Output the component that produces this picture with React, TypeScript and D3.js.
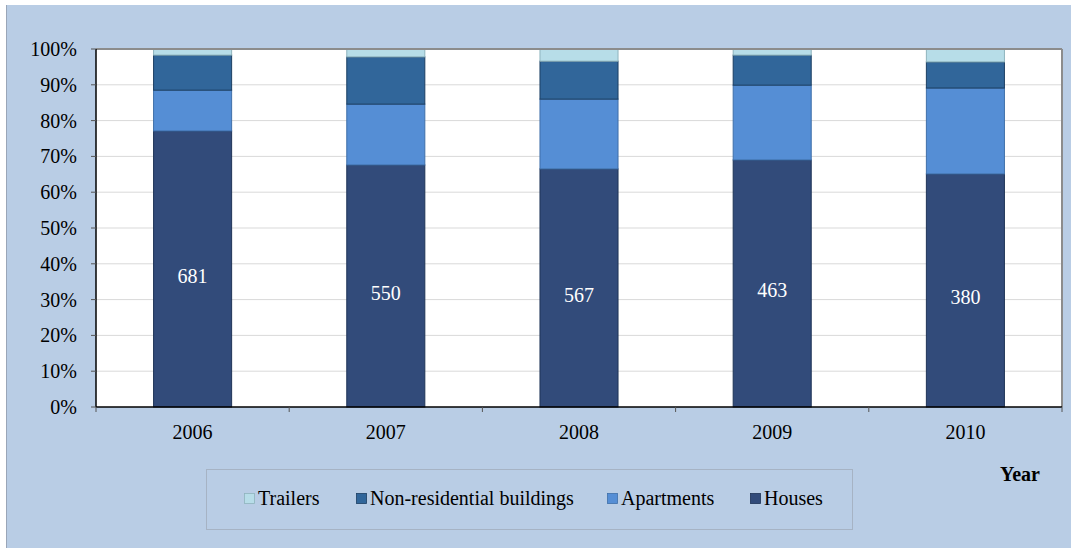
import React from "react";
import * as d3 from "d3";

const years = ["2006", "2007", "2008", "2009", "2010"];
const houses = [77.1, 67.6, 66.5, 69.0, 65.1];
const apartments = [11.4, 17.0, 19.5, 20.9, 24.0];
const nonResidential = [9.8, 13.2, 10.6, 8.4, 7.3];
const trailers = [1.7, 2.2, 3.4, 1.7, 3.6];
const houseCounts = [681, 550, 567, 463, 380];
const yTicks = [0, 10, 20, 30, 40, 50, 60, 70, 80, 90, 100];

const seriesNames = ["Houses", "Apartments", "Non-residential buildings", "Trailers"];
const seriesColors = ["#324b7a", "#558ed5", "#31669a", "#b7dde8"];
const seriesStroke = ["#1f3457", "#3f6fa8", "#1c3f63", "#8fb4bd"];

const W = 1071;
const H = 548;
const margin = { left: 96, right: 1062, top: 49, bottom: 407 };

export default function App() {
  const x = d3.scaleBand().domain(years).range([margin.left, margin.right]).paddingInner(0.596).paddingOuter(0.298);
  const y = d3.scaleLinear().domain([0, 100]).range([margin.bottom, margin.top]);
  const bandStep = (margin.right - margin.left) / years.length;

  const table = years.map((yr, i) => ({
    year: yr,
    Houses: houses[i],
    Apartments: apartments[i],
    "Non-residential buildings": nonResidential[i],
    Trailers: trailers[i],
  }));
  const stacked = d3.stack<any>().keys(seriesNames)(table);

  const font = "'Liberation Serif', 'Times New Roman', Times, serif";
  const ts = { fontFamily: font };
  const legendItems = [
    { idx: 3, x: 244 },
    { idx: 2, x: 356 },
    { idx: 1, x: 607 },
    { idx: 0, x: 750 },
  ];

  return (
    <svg width={W} height={H} style={{ position: "absolute", left: 0, top: 0, fontFamily: font }}>
      <rect x={0} y={0} width={W} height={H} fill="#ffffff" />
      <rect x={6} y={5} width={W - 6} height={H - 5} fill="#b9cde5" />
      <line x1={6.5} y1={5} x2={6.5} y2={H} stroke="#9aa6b8" strokeWidth={1} />
      <rect x={margin.left} y={margin.top} width={margin.right - margin.left} height={margin.bottom - margin.top} fill="#ffffff" />
      {yTicks.filter((t) => t > 0 && t < 100).map((t) => (
        <line key={t} x1={margin.left} x2={margin.right} y1={y(t)} y2={y(t)} stroke="#d9d9d9" strokeWidth={1} />
      ))}
      {stacked.map((layer, si) =>
        layer.map((d, i) => (
          <rect
            key={`${si}-${i}`}
            x={x(years[i])!}
            y={y(d[1])}
            width={x.bandwidth()}
            height={y(d[0]) - y(d[1])}
            fill={seriesColors[si]}
            stroke={seriesStroke[si]}
            strokeWidth={1}
          />
        ))
      )}
      <line x1={margin.left} x2={margin.right} y1={margin.top} y2={margin.top} stroke="#8c8c8c" strokeWidth={2} />
      <line x1={margin.right} x2={margin.right} y1={margin.top} y2={margin.bottom} stroke="#8c8c8c" strokeWidth={2} />
      <line x1={margin.left} x2={margin.left} y1={margin.top} y2={margin.bottom} stroke="#000" strokeWidth={1.5} />
      <line x1={margin.left} x2={margin.right} y1={margin.bottom} y2={margin.bottom} stroke="#000" strokeWidth={1.5} />
      {yTicks.map((t) => (
        <g key={t}>
          <line x1={margin.left - 5} x2={margin.left} y1={y(t)} y2={y(t)} stroke="#555" strokeWidth={1} />
          <text x={margin.left - 19} y={y(t)} dy="0.35em" textAnchor="end" fontSize={20} fill="#000" style={ts}>
            {t}%
          </text>
        </g>
      ))}
      {d3.range(years.length + 1).map((i) => (
        <line key={i} x1={margin.left + i * bandStep} x2={margin.left + i * bandStep} y1={margin.bottom} y2={margin.bottom + 5} stroke="#555" strokeWidth={1} />
      ))}
      {years.map((yr) => (
        <text key={yr} x={x(yr)! + x.bandwidth() / 2} y={439} textAnchor="middle" fontSize={20} fill="#000" style={ts}>
          {yr}
        </text>
      ))}
      {houseCounts.map((c, i) => (
        <text key={i} x={x(years[i])! + x.bandwidth() / 2} y={(y(0) + y(houses[i])) / 2 + 7} dy="0.35em" textAnchor="middle" fontSize={20} fill="#ffffff" style={ts}>
          {c}
        </text>
      ))}
      <text x={1020} y={474} dy="0.35em" textAnchor="middle" fontSize={20} fontWeight="bold" fill="#000" style={ts}>
        Year
      </text>
      <rect x={206.5} y={469.5} width={646} height={60} fill="none" stroke="#a6b3c4" strokeWidth={1} />
      {legendItems.map((it) => (
        <g key={it.idx}>
          <rect x={it.x + 0.5} y={493.5} width={10} height={10} fill={seriesColors[it.idx]} stroke={seriesStroke[it.idx]} strokeWidth={0.8} />
          <text x={it.x + 14} y={498} dy="0.35em" fontSize={20} fill="#000" style={ts}>
            {seriesNames[it.idx]}
          </text>
        </g>
      ))}
    </svg>
  );
}
